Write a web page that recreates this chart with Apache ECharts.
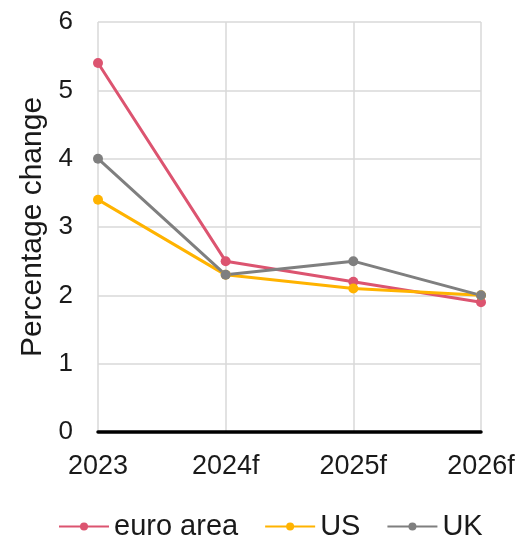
<!DOCTYPE html>
<html>
<head>
<meta charset="utf-8">
<script src="https://cdn.jsdelivr.net/npm/echarts@6/dist/echarts.min.js"></script>
<style>
html,body{margin:0;padding:0;background:#fff;}
#chart{width:531px;height:539px;}
</style>
</head>
<body>
<div id="chart"></div>
<script>
var years = ['2023', '2024f', '2025f', '2026f'];
var euroArea = [5.4, 2.5, 2.2, 1.9];
var us = [3.4, 2.3, 2.1, 2.0];
var uk = [4.0, 2.3, 2.5, 2.0];

var chart = echarts.init(document.getElementById('chart'));

function lineSeries(name, data, color) {
	return {
		name: name,
		type: 'line',
		data: data,
		symbol: 'circle',
		symbolSize: 10,
		itemStyle: { color: color },
		lineStyle: { color: color, width: 3 }
	};
}

var option = {
	animation: false,
	textStyle: { fontFamily: 'Liberation Sans, Arial, sans-serif', color: '#1a1a1a' },
	grid: { left: 98, right: 50, top: 22, bottom: 107 },
	legend: {
		top: 507,
		left: 53,
		itemWidth: 50,
		itemHeight: 10,
		itemGap: 26,
		textStyle: { fontSize: 29, color: '#1a1a1a' },
		data: ['euro area', 'US', 'UK']
	},
	xAxis: {
		type: 'category',
		boundaryGap: false,
		data: years,
		axisLine: { lineStyle: { color: '#000', width: 3.5 } },
		axisTick: { show: false },
		axisLabel: { fontSize: 27, color: '#1a1a1a', margin: 21 },
		splitLine: { show: true, lineStyle: { color: '#d9d9d9', width: 1.5 } }
	},
	yAxis: {
		type: 'value',
		min: 0,
		max: 6,
		interval: 1,
		name: 'Percentage change',
		nameLocation: 'middle',
		nameGap: 48,
		nameTextStyle: { fontSize: 30, color: '#1a1a1a' },
		axisLine: { show: false },
		axisTick: { show: false },
		axisLabel: { fontSize: 26, color: '#1a1a1a', margin: 25 },
		splitLine: { lineStyle: { color: '#d9d9d9', width: 1.5 } }
	},
	series: [
		lineSeries('euro area', euroArea, '#dc5470'),
		lineSeries('US', us, '#ffb300'),
		lineSeries('UK', uk, '#7f7f7f')
	]
};
chart.setOption(option);
</script>
</body>
</html>
